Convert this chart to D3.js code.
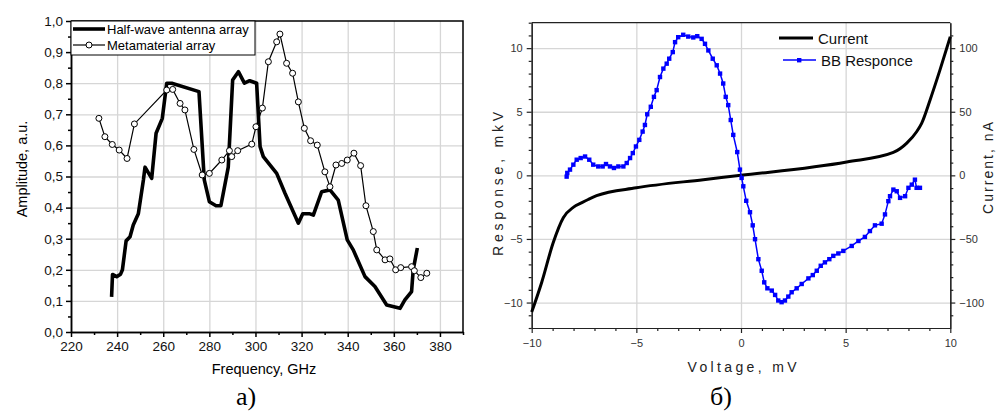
<!DOCTYPE html>
<html>
<head>
<meta charset="utf-8">
<script src="https://cdn.jsdelivr.net/npm/d3@7"></script>
<style>
  body { margin: 0; background: #fff; }
  svg { display: block; font-family: "Liberation Sans", Arial, sans-serif; }
  .grid line { stroke: #d6d6d6; stroke-width: 1.3; }
  .grid path { display: none; }
</style>
</head>
<body>
<svg id="fig" width="997" height="416"></svg>
<script>
// ---- panel a) data ----
var hwFreq = [237.6, 238.0, 239.8, 241.5, 242.3, 243.9, 245.6, 247.0, 249.2, 251.4, 252.1, 255.0, 256.9, 259.6, 261.5, 263.7,
  275.5, 277.8, 280.0, 282.9, 285.0, 288.2, 290.1, 292.6, 295.2, 297.5, 300.5, 302.0, 303.4, 309.2, 312.8, 318.6, 320.5,
  323.6, 325.1, 328.7, 332.3, 335.9, 339.8, 342.4, 347.5, 351.8, 356.9, 362.7, 364.8, 367.7, 368.4, 370.2];
var hwAmp = [0.113, 0.185, 0.178, 0.186, 0.200, 0.293, 0.306, 0.344, 0.380, 0.489, 0.530, 0.494, 0.639, 0.687, 0.800, 0.800,
  0.773, 0.489, 0.419, 0.406, 0.406, 0.530, 0.810, 0.837, 0.800, 0.808, 0.800, 0.596, 0.564, 0.510, 0.446, 0.350, 0.380,
  0.380, 0.376, 0.451, 0.457, 0.424, 0.296, 0.264, 0.178, 0.146, 0.087, 0.076, 0.103, 0.130, 0.200, 0.270];

var mmFreq = [232.1, 234.7, 237.9, 240.9, 244.3, 247.5, 261.5, 264.1, 267.3, 269.4, 273.3, 276.9, 280.0, 285.4, 288.7, 289.7,
  292.3, 298.4, 300.2, 303.0, 305.6, 309.2, 310.6, 313.5, 316.1, 318.6, 321.2, 323.9, 326.8, 330.1, 332.3, 334.9, 337.4,
  339.8, 342.7, 345.6, 347.9, 351.1, 352.6, 356.2, 358.3, 360.8, 363.0, 367.7, 368.9, 371.7, 374.3];
var mmAmp = [0.687, 0.628, 0.603, 0.585, 0.558, 0.669, 0.778, 0.780, 0.735, 0.714, 0.587, 0.505, 0.510, 0.553, 0.583, 0.564,
  0.583, 0.604, 0.660, 0.720, 0.869, 0.933, 0.958, 0.864, 0.832, 0.740, 0.655, 0.615, 0.601, 0.515, 0.467, 0.537, 0.542,
  0.553, 0.575, 0.535, 0.406, 0.323, 0.264, 0.232, 0.235, 0.200, 0.207, 0.210, 0.197, 0.175, 0.189];

var freqTicks = [220, 240, 260, 280, 300, 320, 340, 360, 380];
var ampTicks = [0, 0.1, 0.2, 0.3, 0.4, 0.5, 0.6, 0.7, 0.8, 0.9, 1.0];

// ---- panel б) data ----
var curVolt = [-10, -9.52, -8.97, -8.49, -8.0, -7.6, -7.3, -6.9, -5.0, -1.8, 0, 5.05, 7.28, 7.92, 8.39, 8.63, 9.03, 9.5, 10];
var curNA = [-107.5, -84, -52.8, -33.3, -25, -21.5, -19, -16, -9.8, -3.4, 0, 10.5, 18, 25.3, 34.3, 40.9, 59.1, 82.5, 109];

var bbVolt = [-8.33, -8.30, -8.17, -8.01, -7.85, -7.66, -7.45, -7.25, -7.06, -6.82, -6.61, -6.45, -6.26, -6.07, -5.86, -5.62,
  -5.46, -5.30, -5.17, -5.02, -4.86, -4.70, -4.59, -4.48, -4.31, -4.16, -4.03, -3.87, -3.71, -3.55, -3.43, -3.26, -3.15,
  -3.00, -2.76, -2.52, -2.28, -2.09, -1.88, -1.72, -1.56, -1.35, -1.16, -1.00, -0.85, -0.73, -0.61, -0.49, -0.37, -0.18,
  -0.05, 0.03, 0.11, 0.25, 0.43, 0.56, 0.67, 0.83, 0.99, 1.11, 1.26, 1.47, 1.63, 1.78, 1.94, 2.10, 2.26, 2.42, 2.66, 2.90,
  3.22, 3.43, 3.62, 3.81, 4.01, 4.22, 4.41, 4.65, 4.89, 5.29, 5.61, 5.92, 6.16, 6.40, 6.72, 6.88, 7.04, 7.12, 7.28, 7.44,
  7.60, 7.84, 8.00, 8.16, 8.31, 8.39, 8.55];
var bbResp = [-0.10, 0.19, 0.45, 0.84, 1.23, 1.36, 1.48, 1.23, 0.84, 0.70, 0.70, 0.89, 0.70, 0.58, 0.70, 0.70,
  0.97, 1.36, 1.75, 2.27, 2.79, 3.44, 3.96, 4.80, 5.39, 6.17, 6.70, 7.73, 8.39, 8.78, 9.17, 9.69, 10.47,
  10.86, 11.05, 10.91, 10.84, 10.94, 10.73, 10.34, 9.82, 9.17, 8.65, 8.00, 7.22, 6.17, 5.52, 4.35, 3.18, 1.83,
  0.45, -0.20, -0.86, -2.00, -2.90, -3.93, -5.02, -6.59, -7.50, -8.41, -8.88, -9.06, -9.40, -9.84, -9.97, -9.84, -9.53, -9.19, -8.88, -8.54,
  -8.10, -7.84, -7.50, -7.11, -6.84, -6.59, -6.33, -6.14, -5.94, -5.55, -5.16, -4.84, -4.38, -3.93, -3.80, -3.07, -2.03, -1.64, -1.12, -1.25,
  -1.77, -1.64, -0.98, -0.73, -0.34, -0.98, -0.98];

var voltTicks = [-10, -5, 0, 5, 10];
var respTicks = [-10, -5, 0, 5, 10];
var curTicks = [-100, -50, 0, 50, 100];

var svg = d3.select("#fig");
var commaFmt = d3.formatLocale({decimal: ",", thousands: " ", grouping: [3], currency: ["", ""]}).format(".1f");

// ================= panel a) =================
var xa = d3.scaleLinear().domain([220, 390]).range([71, 463]);
var ya = d3.scaleLinear().domain([0, 1]).range([332, 21]);

var ga = svg.append("g");

ga.append("g").attr("class", "grid")
    .attr("transform", "translate(0," + ya(0) + ")")
    .call(d3.axisBottom(xa).tickValues(freqTicks.slice(1)).tickSize(-(ya(0) - ya(1))).tickFormat(""));
ga.append("g").attr("class", "grid")
    .attr("transform", "translate(" + xa(220) + ",0)")
    .call(d3.axisLeft(ya).tickValues(ampTicks.slice(1, 10)).tickSize(-(xa(390) - xa(220))).tickFormat(""));

// frame
ga.append("path")
    .attr("d", "M" + xa(220) + "," + ya(1) + "H" + xa(390) + "V" + ya(0))
    .attr("fill", "none").attr("stroke", "#000").attr("stroke-width", 1.5);

ga.append("g")
    .attr("transform", "translate(0," + ya(0) + ")")
    .call(d3.axisBottom(xa).tickValues(freqTicks).tickSize(5).tickSizeOuter(0).tickPadding(4));
ga.append("g")
    .attr("transform", "translate(0," + ya(0) + ")")
    .call(d3.axisBottom(xa).tickValues(d3.range(230, 391, 20)).tickSize(3).tickSizeOuter(0).tickFormat(""));
ga.append("g")
    .attr("transform", "translate(" + xa(220) + ",0)")
    .call(d3.axisLeft(ya).tickValues(ampTicks).tickSize(5).tickSizeOuter(0).tickPadding(3).tickFormat(commaFmt));
ga.append("g")
    .attr("transform", "translate(" + xa(220) + ",0)")
    .call(d3.axisLeft(ya).tickValues(d3.range(0.05, 1, 0.1)).tickSize(3).tickSizeOuter(0).tickFormat(""));

ga.selectAll(".domain, .tick line").attr("stroke", "#000").attr("stroke-width", 1.5);
ga.selectAll(".tick text").attr("fill", "#111").style("font-size", "13.5px");

var lineA = d3.line().x(function(d) { return xa(d[0]); }).y(function(d) { return ya(d[1]); });
var hw = d3.zip(hwFreq, hwAmp);
var mm = d3.zip(mmFreq, mmAmp);

ga.append("path").datum(hw).attr("d", lineA)
    .attr("fill", "none").attr("stroke", "#000").attr("stroke-width", 3.6).attr("stroke-linejoin", "round");
ga.append("path").datum(mm).attr("d", lineA)
    .attr("fill", "none").attr("stroke", "#000").attr("stroke-width", 1.2);
ga.selectAll("circle.mm").data(mm).enter().append("circle")
    .attr("class", "mm")
    .attr("cx", function(d) { return xa(d[0]); })
    .attr("cy", function(d) { return ya(d[1]); })
    .attr("r", 3).attr("fill", "#fff").attr("stroke", "#000").attr("stroke-width", 1);

// legend a)
ga.append("rect").attr("x", 71).attr("y", 21).attr("width", 184).attr("height", 34)
    .attr("fill", "#fff").attr("stroke", "#000").attr("stroke-width", 1);
ga.append("line").attr("x1", 73).attr("x2", 105).attr("y1", 29).attr("y2", 29)
    .attr("stroke", "#000").attr("stroke-width", 3.6);
ga.append("line").attr("x1", 73).attr("x2", 105).attr("y1", 45).attr("y2", 45)
    .attr("stroke", "#000").attr("stroke-width", 1.2);
ga.append("circle").attr("cx", 89).attr("cy", 45).attr("r", 3)
    .attr("fill", "#fff").attr("stroke", "#000");
ga.append("text").attr("x", 107).attr("y", 34).style("font-size", "13px").text("Half-wave antenna array");
ga.append("text").attr("x", 107).attr("y", 50).style("font-size", "13px").text("Metamaterial array");

ga.append("text").attr("x", 264).attr("y", 374).attr("text-anchor", "middle")
    .style("font-size", "14.5px").text("Frequency, GHz");
ga.append("text").attr("transform", "translate(27,169) rotate(-90)").attr("text-anchor", "middle")
    .style("font-size", "14.5px").text("Amplitude, a.u.");
ga.append("text").attr("x", 246).attr("y", 405).attr("text-anchor", "middle")
    .style("font-family", "'Liberation Serif', 'Times New Roman', serif").style("font-size", "26px").text("a)");

// ================= panel б) =================
var xb = d3.scaleLinear().domain([-10, 10]).range([531.7, 950.3]);
var yb = d3.scaleLinear().domain([-12, 12]).range([328, 22.7]);
var yc = d3.scaleLinear().domain([-120, 120]).range([328, 22.7]);

var gb = svg.append("g");
gb.append("g").attr("class", "grid")
    .attr("transform", "translate(0," + yb(-12) + ")")
    .call(d3.axisBottom(xb).tickValues([-5, 0, 5]).tickSize(-(yb(-12) - yb(12))).tickFormat(""));
gb.append("g").attr("class", "grid")
    .attr("transform", "translate(" + xb(-10) + ",0)")
    .call(d3.axisLeft(yb).tickValues(respTicks).tickSize(-(xb(10) - xb(-10))).tickFormat(""));

gb.append("line").attr("x1", xb(-10)).attr("x2", xb(10)).attr("y1", yb(12)).attr("y2", yb(12))
    .attr("stroke", "#222").attr("stroke-width", 1.2);

gb.append("g").attr("transform", "translate(0," + yb(-12) + ")")
    .call(d3.axisBottom(xb).tickValues(voltTicks).tickSize(5).tickSizeOuter(0).tickPadding(6));
gb.append("g").attr("transform", "translate(0," + yb(-12) + ")")
    .call(d3.axisBottom(xb).tickValues(d3.range(-9, 10, 1).filter(function(v) { return v % 5 !== 0; }))
      .tickSize(3).tickSizeOuter(0).tickFormat(""));
gb.append("g").attr("transform", "translate(" + xb(-10) + ",0)")
    .call(d3.axisLeft(yb).tickValues(respTicks).tickSize(5).tickSizeOuter(0).tickPadding(4));
gb.append("g").attr("transform", "translate(" + xb(-10) + ",0)")
    .call(d3.axisLeft(yb).tickValues(d3.range(-12, 13, 1).filter(function(v) { return v % 5 !== 0; }))
      .tickSize(3).tickSizeOuter(0).tickFormat(""));
gb.append("g").attr("transform", "translate(" + xb(10) + ",0)")
    .call(d3.axisRight(yc).tickValues(curTicks).tickSize(5).tickSizeOuter(0).tickPadding(4));
gb.append("g").attr("transform", "translate(" + xb(10) + ",0)")
    .call(d3.axisRight(yc).tickValues(d3.range(-110, 120, 10).filter(function(v) { return v % 50 !== 0; }))
      .tickSize(3).tickSizeOuter(0).tickFormat(""));

gb.selectAll(".domain, .tick line").attr("stroke", "#222").attr("stroke-width", 1.2);
gb.selectAll(".tick text").attr("fill", "#333").style("font-size", "11px");

var lineCur = d3.line().curve(d3.curveMonotoneX)
    .x(function(d) { return xb(d[0]); }).y(function(d) { return yc(d[1]); });
var lineBB = d3.line().x(function(d) { return xb(d[0]); }).y(function(d) { return yb(d[1]); });
var cur = d3.zip(curVolt, curNA);
var bb = d3.zip(bbVolt, bbResp);

gb.append("path").datum(cur).attr("d", lineCur)
    .attr("fill", "none").attr("stroke", "#000").attr("stroke-width", 3).attr("stroke-linejoin", "round");
gb.append("path").datum(bb).attr("d", lineBB)
    .attr("fill", "none").attr("stroke", "#0000ff").attr("stroke-width", 1.5);
gb.selectAll("rect.bb").data(bb).enter().append("rect")
    .attr("class", "bb")
    .attr("x", function(d) { return xb(d[0]) - 2.2; })
    .attr("y", function(d) { return yb(d[1]) - 2.2; })
    .attr("width", 4.4).attr("height", 4.4).attr("fill", "#0000ff");

// legend б)
gb.append("line").attr("x1", 779).attr("x2", 813).attr("y1", 38).attr("y2", 38)
    .attr("stroke", "#000").attr("stroke-width", 3);
gb.append("text").attr("x", 818).attr("y", 44).style("font-size", "15px").attr("fill", "#111").text("Current");
gb.append("line").attr("x1", 783).attr("x2", 816).attr("y1", 60).attr("y2", 60)
    .attr("stroke", "#0000ff").attr("stroke-width", 1.5);
gb.append("rect").attr("x", 797).attr("y", 58).attr("width", 4.4).attr("height", 4.4).attr("fill", "#0000ff");
gb.append("text").attr("x", 821).attr("y", 66).style("font-size", "15px").attr("fill", "#111").text("BB Responce");

gb.append("text").attr("x", 742).attr("y", 372).attr("text-anchor", "middle")
    .attr("fill", "#222").style("font-size", "14px")
    .attr("textLength", 109).attr("lengthAdjust", "spacing").text("Voltage, mV");
gb.append("text").attr("transform", "translate(503,184) rotate(-90)").attr("text-anchor", "middle")
    .attr("fill", "#222").style("font-size", "14px")
    .attr("textLength", 144).attr("lengthAdjust", "spacing").text("Response, mkV");
gb.append("text").attr("transform", "translate(993,168) rotate(-90)").attr("text-anchor", "middle")
    .attr("fill", "#222").style("font-size", "14px")
    .attr("textLength", 92).attr("lengthAdjust", "spacing").text("Current, nA");
gb.append("text").attr("x", 721).attr("y", 405).attr("text-anchor", "middle")
    .style("font-family", "'Liberation Serif', 'Times New Roman', serif").style("font-size", "26px").text("б)");
</script>
</body>
</html>
